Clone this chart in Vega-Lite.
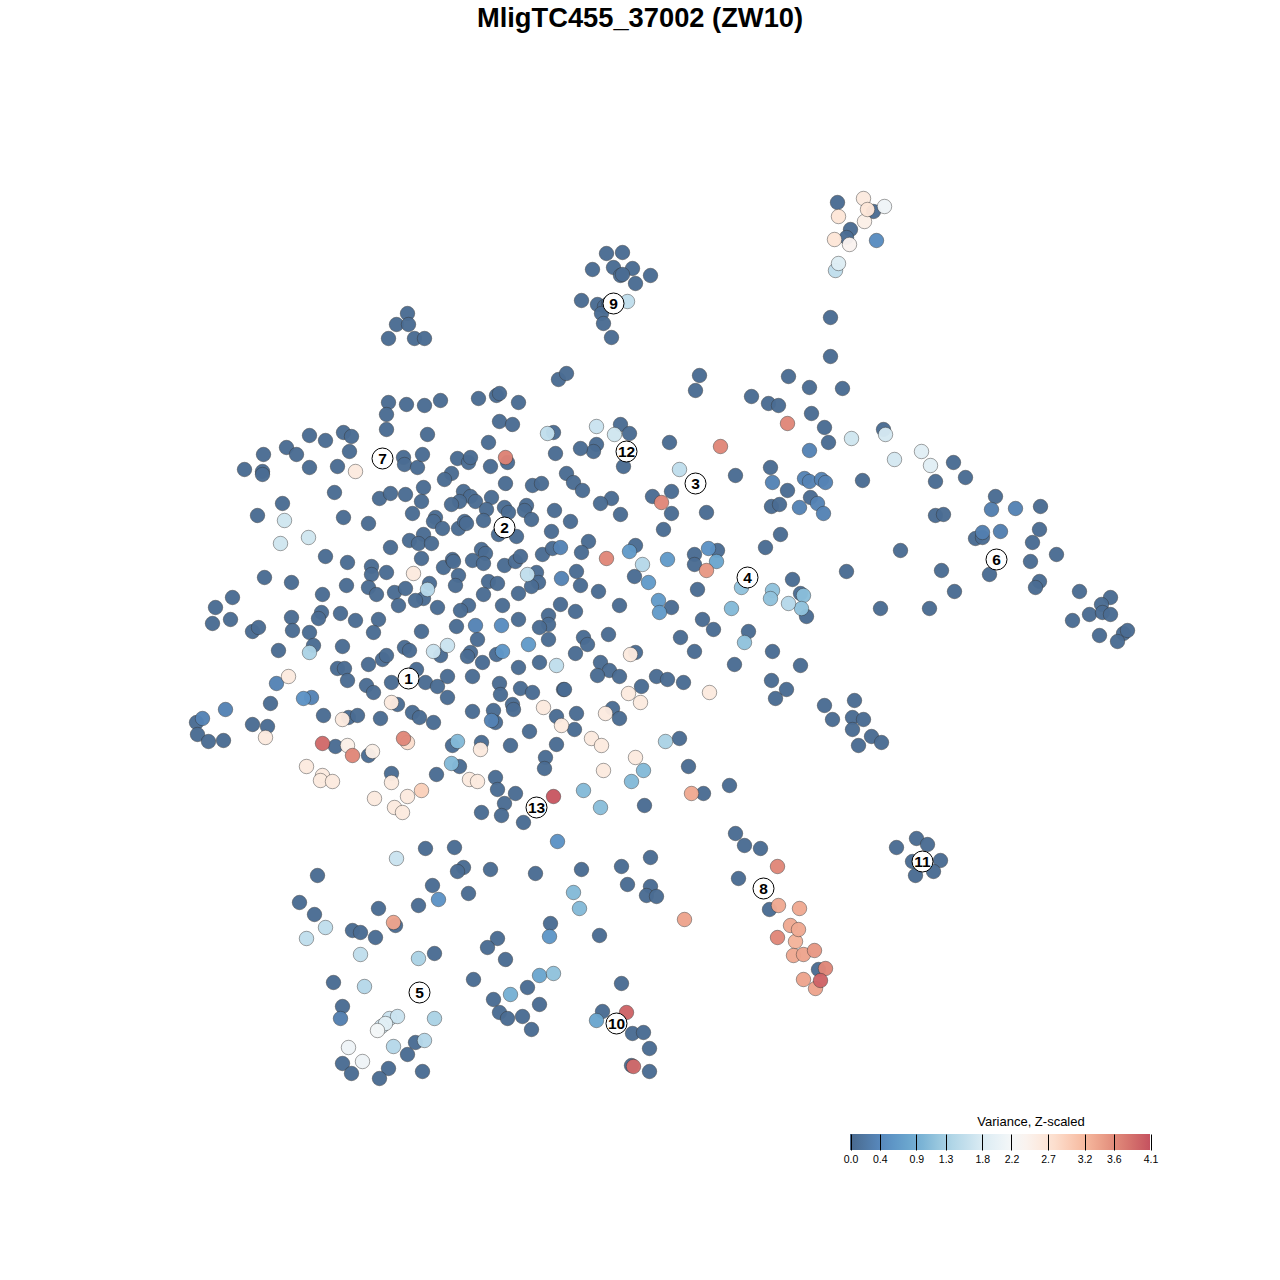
{"$schema":"https://vega.github.io/schema/vega-lite/v6.json","width":1280,"height":1280,"padding":0,"autosize":{"type":"none"},"background":"white","title":{"text":"MligTC455_37002 (ZW10)","font":"Liberation Sans","fontSize":27.3,"fontWeight":"bold","color":"black","anchor":"middle","frame":"group","offset":-32},"config":{"view":{"stroke":null},"style":{"guide-title":{"dx":31}}},"datasets":{"pts":[
{"x":244,"y":469,"v":0.05},{"x":263,"y":454,"v":0.05},{"x":262,"y":471,"v":0.05},{"x":262,"y":474,"v":0.05},{"x":286,"y":447,"v":0.05},{"x":296,"y":454,"v":0.05},{"x":309,"y":435,"v":0.05},{"x":325,"y":440,"v":0.05},{"x":343,"y":432,"v":0.05},{"x":351,"y":436,"v":0.05},{"x":349,"y":451,"v":0.05},{"x":309,"y":467,"v":0.05},{"x":337,"y":466,"v":0.05},{"x":355,"y":471,"v":2.6},{"x":334,"y":492,"v":0.05},{"x":282,"y":503,"v":0.05},{"x":257,"y":515,"v":0.05},{"x":284,"y":520,"v":1.7},{"x":308,"y":537,"v":1.7},{"x":280,"y":543,"v":1.7},{"x":343,"y":517,"v":0.05},{"x":368,"y":523,"v":0.05},{"x":325,"y":556,"v":0.05},{"x":347,"y":562,"v":0.05},{"x":264,"y":577,"v":0.05},{"x":291,"y":582,"v":0.05},{"x":379,"y":498,"v":0.05},{"x":390,"y":493,"v":0.05},{"x":388,"y":402,"v":0.05},{"x":386,"y":414,"v":0.05},{"x":386,"y":429,"v":0.05},{"x":390,"y":547,"v":0.05},{"x":371,"y":566,"v":0.05},{"x":371,"y":574,"v":0.05},{"x":386,"y":572,"v":0.05},
{"x":406,"y":404,"v":0.05},{"x":424,"y":405,"v":0.05},{"x":440,"y":400,"v":0.05},{"x":427,"y":434,"v":0.05},{"x":478,"y":398,"v":0.05},{"x":496,"y":395,"v":0.05},{"x":499,"y":393,"v":0.05},{"x":518,"y":402,"v":0.05},{"x":558,"y":379,"v":0.05},{"x":566,"y":373,"v":0.05},{"x":499,"y":421,"v":0.05},{"x":512,"y":424,"v":0.05},{"x":553,"y":432,"v":0.05},{"x":547,"y":433,"v":1.55},{"x":488,"y":442,"v":0.05},{"x":505,"y":457,"v":3.7},{"x":507,"y":462,"v":0.05},{"x":555,"y":453,"v":0.05},{"x":566,"y":473,"v":0.05},{"x":403,"y":457,"v":0.05},{"x":404,"y":464,"v":0.05},{"x":417,"y":467,"v":0.05},{"x":422,"y":454,"v":0.05},{"x":457,"y":458,"v":0.05},{"x":468,"y":462,"v":0.05},{"x":470,"y":457,"v":0.05},{"x":490,"y":466,"v":0.05},{"x":451,"y":473,"v":0.05},{"x":444,"y":479,"v":0.05},{"x":505,"y":483,"v":0.05},{"x":532,"y":485,"v":0.05},{"x":541,"y":483,"v":0.05},{"x":423,"y":487,"v":0.05},{"x":405,"y":494,"v":0.05},{"x":421,"y":501,"v":0.05},{"x":463,"y":491,"v":0.05},{"x":470,"y":496,"v":0.05},{"x":475,"y":501,"v":0.05},{"x":459,"y":501,"v":0.05},{"x":451,"y":504,"v":0.05},{"x":491,"y":497,"v":0.05},{"x":486,"y":509,"v":0.05},{"x":504,"y":507,"v":0.05},{"x":508,"y":512,"v":0.05},{"x":526,"y":505,"v":0.05},{"x":524,"y":510,"v":0.05},{"x":531,"y":519,"v":0.05},{"x":554,"y":510,"v":0.05},{"x":570,"y":521,"v":0.05},{"x":412,"y":513,"v":0.05},{"x":435,"y":517,"v":0.05},{"x":433,"y":521,"v":0.05},{"x":442,"y":528,"v":0.05},{"x":458,"y":528,"v":0.05},{"x":464,"y":521,"v":0.05},{"x":466,"y":523,"v":0.05},{"x":483,"y":520,"v":0.05},{"x":498,"y":534,"v":0.05},{"x":516,"y":536,"v":0.05},{"x":551,"y":531,"v":0.05},{"x":409,"y":540,"v":0.05},{"x":423,"y":534,"v":0.05},{"x":418,"y":543,"v":0.05},{"x":431,"y":543,"v":0.05},{"x":421,"y":558,"v":0.05},{"x":443,"y":567,"v":0.05},{"x":452,"y":559,"v":0.05},{"x":453,"y":561,"v":0.05},{"x":472,"y":560,"v":0.05},{"x":481,"y":549,"v":0.05},{"x":485,"y":553,"v":0.05},{"x":483,"y":563,"v":0.05},{"x":504,"y":565,"v":0.05},{"x":515,"y":561,"v":0.05},{"x":520,"y":556,"v":0.05},{"x":542,"y":554,"v":0.05},{"x":552,"y":548,"v":0.05},{"x":560,"y":547,"v":0.35},{"x":413,"y":573,"v":2.6},{"x":458,"y":575,"v":0.05},{"x":527,"y":574,"v":1.55},{"x":536,"y":572,"v":0.05},{"x":488,"y":581,"v":0.05},{"x":561,"y":578,"v":0.35},{"x":429,"y":583,"v":0.05},{"x":497,"y":583,"v":0.05},{"x":455,"y":585,"v":0.05},{"x":538,"y":582,"v":0.05},{"x":531,"y":586,"v":0.05},
{"x":232,"y":597,"v":0.05},{"x":215,"y":607,"v":0.05},{"x":230,"y":619,"v":0.05},{"x":212,"y":623,"v":0.05},{"x":252,"y":631,"v":0.05},{"x":258,"y":627,"v":0.05},{"x":291,"y":617,"v":0.05},{"x":292,"y":630,"v":0.05},{"x":322,"y":594,"v":0.05},{"x":346,"y":585,"v":0.05},{"x":368,"y":587,"v":0.05},{"x":376,"y":594,"v":0.05},{"x":394,"y":592,"v":0.05},{"x":321,"y":612,"v":0.05},{"x":318,"y":618,"v":0.05},{"x":340,"y":613,"v":0.05},{"x":355,"y":620,"v":0.05},{"x":378,"y":619,"v":0.05},{"x":373,"y":632,"v":0.05},{"x":309,"y":632,"v":0.05},{"x":313,"y":645,"v":0.05},{"x":309,"y":652,"v":1.35},{"x":342,"y":646,"v":0.05},{"x":278,"y":650,"v":0.05},{"x":337,"y":668,"v":0.05},{"x":344,"y":668,"v":0.05},{"x":347,"y":680,"v":0.05},{"x":368,"y":664,"v":0.05},{"x":382,"y":659,"v":0.05},{"x":386,"y":655,"v":0.05},{"x":366,"y":685,"v":0.05},{"x":373,"y":692,"v":0.05},{"x":288,"y":676,"v":2.6},{"x":276,"y":683,"v":0.35},{"x":303,"y":698,"v":0.55},{"x":311,"y":697,"v":0.35},{"x":270,"y":703,"v":0.05},{"x":225,"y":709,"v":0.35},{"x":202,"y":718,"v":0.35},{"x":196,"y":722,"v":0.05},{"x":197,"y":734,"v":0.05},{"x":208,"y":741,"v":0.05},{"x":223,"y":740,"v":0.05},{"x":252,"y":724,"v":0.05},{"x":267,"y":726,"v":0.05},{"x":265,"y":737,"v":2.6},{"x":323,"y":715,"v":0.05},{"x":342,"y":719,"v":2.6},{"x":348,"y":717,"v":0.05},{"x":357,"y":715,"v":0.05},{"x":380,"y":718,"v":0.05},{"x":391,"y":702,"v":2.6},{"x":322,"y":743,"v":3.9},{"x":335,"y":746,"v":0.05},{"x":347,"y":745,"v":2.5},{"x":352,"y":755,"v":3.65},{"x":368,"y":755,"v":0.05},{"x":372,"y":751,"v":2.5},{"x":306,"y":766,"v":2.6},{"x":322,"y":775,"v":2.6},{"x":320,"y":780,"v":2.6},{"x":332,"y":781,"v":2.6},
{"x":405,"y":588,"v":0.05},{"x":427,"y":589,"v":1.45},{"x":423,"y":598,"v":0.05},{"x":415,"y":600,"v":0.05},{"x":398,"y":605,"v":0.05},{"x":437,"y":607,"v":0.05},{"x":483,"y":594,"v":0.05},{"x":518,"y":593,"v":0.05},{"x":468,"y":605,"v":0.05},{"x":460,"y":610,"v":0.05},{"x":502,"y":605,"v":0.05},{"x":560,"y":604,"v":0.05},{"x":518,"y":619,"v":0.05},{"x":548,"y":615,"v":0.05},{"x":548,"y":624,"v":0.05},{"x":539,"y":627,"v":0.05},{"x":548,"y":639,"v":0.05},{"x":475,"y":625,"v":0.35},{"x":501,"y":625,"v":0.45},{"x":456,"y":626,"v":0.05},{"x":421,"y":631,"v":0.05},{"x":477,"y":639,"v":0.05},{"x":528,"y":644,"v":0.65},{"x":404,"y":647,"v":0.05},{"x":409,"y":650,"v":0.05},{"x":447,"y":645,"v":1.65},{"x":433,"y":651,"v":1.65},{"x":440,"y":655,"v":0.05},{"x":470,"y":652,"v":0.05},{"x":467,"y":656,"v":0.05},{"x":482,"y":662,"v":0.05},{"x":502,"y":651,"v":0.6},{"x":496,"y":654,"v":0.05},{"x":539,"y":662,"v":0.05},{"x":556,"y":665,"v":1.55},{"x":518,"y":667,"v":0.05},{"x":416,"y":669,"v":0.05},{"x":447,"y":676,"v":0.05},{"x":391,"y":682,"v":0.05},{"x":425,"y":682,"v":0.05},{"x":437,"y":686,"v":0.05},{"x":472,"y":676,"v":0.05},{"x":499,"y":683,"v":0.05},{"x":500,"y":694,"v":0.05},{"x":520,"y":688,"v":0.05},{"x":532,"y":692,"v":0.05},{"x":563,"y":689,"v":0.05},{"x":447,"y":697,"v":0.05},{"x":397,"y":704,"v":0.05},{"x":512,"y":704,"v":0.05},{"x":513,"y":709,"v":0.05},{"x":543,"y":707,"v":2.6},{"x":412,"y":712,"v":0.05},{"x":419,"y":717,"v":0.05},{"x":433,"y":722,"v":0.05},{"x":472,"y":711,"v":0.05},{"x":493,"y":710,"v":0.05},{"x":495,"y":722,"v":0.05},{"x":491,"y":720,"v":0.35},{"x":529,"y":731,"v":0.05},{"x":556,"y":716,"v":0.05},{"x":561,"y":725,"v":2.6},{"x":574,"y":729,"v":0.05},{"x":576,"y":713,"v":0.05},{"x":556,"y":744,"v":0.05},{"x":510,"y":745,"v":0.05},{"x":545,"y":757,"v":0.05},{"x":544,"y":768,"v":0.05},{"x":403,"y":738,"v":3.65},{"x":407,"y":742,"v":2.8},{"x":457,"y":741,"v":1.05},{"x":452,"y":745,"v":0.05},{"x":481,"y":742,"v":0.05},{"x":480,"y":749,"v":2.6},{"x":451,"y":763,"v":1.05},{"x":459,"y":766,"v":0.05},{"x":436,"y":774,"v":0.05},{"x":391,"y":773,"v":0.05},{"x":391,"y":782,"v":2.6},{"x":421,"y":790,"v":2.95},{"x":407,"y":796,"v":2.6},{"x":374,"y":798,"v":2.6},{"x":394,"y":807,"v":2.6},{"x":402,"y":812,"v":2.6},{"x":469,"y":779,"v":2.6},{"x":477,"y":781,"v":2.6},{"x":495,"y":777,"v":0.05},{"x":497,"y":789,"v":0.05},{"x":515,"y":793,"v":0.05},{"x":504,"y":803,"v":0.05},{"x":481,"y":812,"v":0.05},{"x":501,"y":815,"v":0.05},{"x":523,"y":822,"v":0.05},{"x":553,"y":796,"v":4.05},{"x":583,"y":790,"v":1.05},{"x":557,"y":841,"v":0.55},{"x":425,"y":848,"v":0.05},{"x":454,"y":847,"v":0.05},
{"x":768,"y":403,"v":0.05},{"x":778,"y":405,"v":0.05},{"x":811,"y":413,"v":0.05},{"x":787,"y":423,"v":3.65},{"x":824,"y":427,"v":0.05},{"x":828,"y":442,"v":0.05},{"x":809,"y":450,"v":0.35},{"x":596,"y":426,"v":1.65},{"x":620,"y":424,"v":0.05},{"x":629,"y":433,"v":0.05},{"x":614,"y":434,"v":1.7},{"x":596,"y":444,"v":0.05},{"x":593,"y":451,"v":0.05},{"x":580,"y":448,"v":0.05},{"x":669,"y":442,"v":0.05},{"x":720,"y":446,"v":3.65},{"x":623,"y":466,"v":0.05},{"x":679,"y":469,"v":1.55},{"x":770,"y":467,"v":0.05},{"x":735,"y":475,"v":0.05},{"x":573,"y":482,"v":0.05},{"x":582,"y":490,"v":0.05},{"x":772,"y":482,"v":0.35},{"x":804,"y":478,"v":0.35},{"x":809,"y":481,"v":0.35},{"x":821,"y":479,"v":0.35},{"x":825,"y":482,"v":0.35},{"x":787,"y":490,"v":0.05},{"x":671,"y":491,"v":0.05},{"x":652,"y":496,"v":0.05},{"x":661,"y":502,"v":3.65},{"x":611,"y":498,"v":0.05},{"x":600,"y":503,"v":0.05},{"x":620,"y":514,"v":0.05},{"x":671,"y":513,"v":0.05},{"x":706,"y":512,"v":0.05},{"x":771,"y":506,"v":0.05},{"x":779,"y":504,"v":0.05},{"x":799,"y":507,"v":0.35},{"x":810,"y":497,"v":0.05},{"x":817,"y":503,"v":0.35},{"x":823,"y":513,"v":0.35},{"x":663,"y":529,"v":0.05},{"x":780,"y":534,"v":0.05},{"x":765,"y":547,"v":0.05},{"x":588,"y":541,"v":0.05},{"x":581,"y":552,"v":0.05},{"x":635,"y":545,"v":0.05},{"x":629,"y":551,"v":0.65},{"x":606,"y":558,"v":3.65},{"x":694,"y":554,"v":0.05},{"x":708,"y":548,"v":0.55},{"x":717,"y":550,"v":0.05},{"x":716,"y":561,"v":0.8},{"x":694,"y":564,"v":0.05},{"x":706,"y":570,"v":3.5},{"x":667,"y":559,"v":0.65},{"x":642,"y":564,"v":1.45},{"x":576,"y":571,"v":0.05},{"x":634,"y":576,"v":0.05},{"x":648,"y":582,"v":0.65},{"x":580,"y":585,"v":0.05},{"x":598,"y":591,"v":0.05},{"x":741,"y":587,"v":1.15},{"x":792,"y":579,"v":0.05},{"x":772,"y":590,"v":1.15},{"x":770,"y":598,"v":1.15},{"x":800,"y":593,"v":0.05},{"x":803,"y":595,"v":1.1},{"x":788,"y":603,"v":1.45},{"x":801,"y":608,"v":1.15},{"x":806,"y":616,"v":0.05},{"x":731,"y":608,"v":1.05},{"x":697,"y":589,"v":0.05},{"x":619,"y":605,"v":0.05},{"x":658,"y":600,"v":0.65},{"x":671,"y":607,"v":0.05},{"x":659,"y":612,"v":0.65},{"x":575,"y":611,"v":0.05},{"x":702,"y":619,"v":0.05},{"x":713,"y":629,"v":0.05},{"x":680,"y":637,"v":0.05},{"x":608,"y":634,"v":0.05},{"x":583,"y":637,"v":0.05},{"x":587,"y":644,"v":0.05},{"x":748,"y":631,"v":0.05},{"x":744,"y":642,"v":1.15},{"x":772,"y":651,"v":0.05},{"x":694,"y":651,"v":0.05},{"x":635,"y":652,"v":0.05},{"x":630,"y":654,"v":2.6},{"x":575,"y":653,"v":0.05},{"x":600,"y":662,"v":0.05},{"x":609,"y":670,"v":0.05},{"x":597,"y":675,"v":0.05},{"x":619,"y":676,"v":0.05},{"x":734,"y":664,"v":0.05},{"x":800,"y":665,"v":0.05},{"x":656,"y":676,"v":0.05},{"x":667,"y":679,"v":0.05},{"x":683,"y":682,"v":0.05},{"x":641,"y":686,"v":0.05},{"x":564,"y":689,"v":0.05},{"x":771,"y":680,"v":0.05},{"x":786,"y":689,"v":0.05},{"x":775,"y":698,"v":0.05},{"x":709,"y":692,"v":2.6},{"x":628,"y":693,"v":2.6},{"x":640,"y":702,"v":2.6},{"x":605,"y":713,"v":2.6},{"x":612,"y":708,"v":0.05},{"x":619,"y":718,"v":0.05},{"x":591,"y":738,"v":2.6},{"x":601,"y":745,"v":2.6},
{"x":837,"y":202,"v":0.05},{"x":863,"y":198,"v":2.6},{"x":873,"y":211,"v":0.05},{"x":884,"y":206,"v":2.1},{"x":867,"y":209,"v":2.7},{"x":838,"y":216,"v":2.7},{"x":864,"y":221,"v":2.5},{"x":850,"y":229,"v":0.05},{"x":846,"y":237,"v":0.05},{"x":834,"y":239,"v":2.7},{"x":849,"y":244,"v":2.4},{"x":876,"y":240,"v":0.45},{"x":838,"y":263,"v":1.85},{"x":835,"y":270,"v":1.55},
{"x":606,"y":253,"v":0.05},{"x":622,"y":252,"v":0.05},{"x":592,"y":269,"v":0.05},{"x":613,"y":267,"v":0.05},{"x":632,"y":268,"v":0.05},{"x":620,"y":275,"v":0.05},{"x":622,"y":274,"v":0.05},{"x":650,"y":275,"v":0.05},{"x":635,"y":283,"v":0.05},{"x":581,"y":300,"v":0.05},{"x":597,"y":304,"v":0.05},{"x":627,"y":301,"v":1.55},{"x":604,"y":306,"v":0.05},{"x":608,"y":303,"v":0.05},{"x":601,"y":313,"v":0.05},{"x":603,"y":323,"v":0.05},{"x":611,"y":337,"v":0.05},
{"x":407,"y":313,"v":0.05},{"x":396,"y":324,"v":0.05},{"x":408,"y":324,"v":0.05},{"x":388,"y":338,"v":0.05},{"x":414,"y":338,"v":0.05},{"x":424,"y":338,"v":0.05},
{"x":830,"y":317,"v":0.05},{"x":830,"y":356,"v":0.05},{"x":699,"y":375,"v":0.05},{"x":695,"y":390,"v":0.05},{"x":788,"y":376,"v":0.05},{"x":809,"y":387,"v":0.05},{"x":842,"y":388,"v":0.05},{"x":751,"y":396,"v":0.05},
{"x":851,"y":438,"v":1.7},{"x":883,"y":429,"v":0.05},{"x":885,"y":434,"v":1.75},{"x":894,"y":459,"v":1.75},{"x":921,"y":451,"v":1.9},{"x":930,"y":465,"v":1.9},{"x":953,"y":462,"v":0.05},{"x":965,"y":477,"v":0.05},{"x":935,"y":481,"v":0.05},{"x":862,"y":480,"v":0.05},{"x":995,"y":496,"v":0.05},{"x":1015,"y":508,"v":0.35},{"x":1040,"y":506,"v":0.05},{"x":991,"y":509,"v":0.3},{"x":935,"y":515,"v":0.05},{"x":943,"y":514,"v":0.05},{"x":1039,"y":529,"v":0.05},{"x":982,"y":532,"v":0.3},{"x":975,"y":538,"v":0.05},{"x":1000,"y":531,"v":0.3},{"x":982,"y":537,"v":0.05},{"x":1032,"y":542,"v":0.05},{"x":1056,"y":554,"v":0.05},{"x":900,"y":550,"v":0.05},{"x":1030,"y":561,"v":0.05},{"x":989,"y":574,"v":0.05},{"x":941,"y":570,"v":0.05},{"x":846,"y":571,"v":0.05},{"x":954,"y":591,"v":0.05},{"x":1039,"y":581,"v":0.05},{"x":1035,"y":587,"v":0.05},{"x":880,"y":608,"v":0.05},{"x":929,"y":608,"v":0.05},{"x":1079,"y":591,"v":0.05},{"x":1110,"y":597,"v":0.05},{"x":1101,"y":604,"v":0.05},{"x":1089,"y":614,"v":0.05},{"x":1102,"y":612,"v":0.05},{"x":1110,"y":614,"v":0.05},{"x":1072,"y":620,"v":0.05},{"x":1123,"y":633,"v":0.05},{"x":1127,"y":630,"v":0.05},{"x":1099,"y":635,"v":0.05},{"x":1117,"y":641,"v":0.05},
{"x":854,"y":700,"v":0.05},{"x":824,"y":705,"v":0.05},{"x":832,"y":719,"v":0.05},{"x":852,"y":717,"v":0.05},{"x":863,"y":719,"v":0.05},{"x":852,"y":729,"v":0.05},{"x":871,"y":736,"v":0.05},{"x":881,"y":742,"v":0.05},{"x":858,"y":745,"v":0.05},{"x":679,"y":738,"v":0.05},{"x":665,"y":741,"v":1.35},{"x":635,"y":757,"v":2.6},{"x":688,"y":766,"v":0.05},{"x":643,"y":770,"v":1.05},{"x":631,"y":781,"v":1.05},{"x":603,"y":770,"v":2.6},{"x":729,"y":785,"v":0.05},{"x":703,"y":793,"v":0.05},{"x":691,"y":793,"v":3.35},{"x":644,"y":805,"v":0.05},{"x":600,"y":807,"v":1.1},
{"x":735,"y":833,"v":0.05},{"x":744,"y":845,"v":0.05},{"x":760,"y":848,"v":0.05},{"x":777,"y":866,"v":3.65},{"x":738,"y":878,"v":0.05},{"x":769,"y":909,"v":0.05},{"x":778,"y":905,"v":3.35},{"x":799,"y":908,"v":3.35},{"x":790,"y":925,"v":3.35},{"x":798,"y":929,"v":3.35},{"x":777,"y":937,"v":3.65},{"x":795,"y":941,"v":3.25},{"x":814,"y":950,"v":3.5},{"x":793,"y":955,"v":3.35},{"x":803,"y":954,"v":3.4},{"x":818,"y":969,"v":0.05},{"x":825,"y":968,"v":3.65},{"x":820,"y":980,"v":3.95},{"x":803,"y":979,"v":3.4},{"x":815,"y":988,"v":3.4},
{"x":916,"y":838,"v":0.05},{"x":927,"y":844,"v":0.05},{"x":896,"y":847,"v":0.05},{"x":912,"y":861,"v":0.05},{"x":922,"y":858,"v":0.05},{"x":940,"y":860,"v":0.05},{"x":915,"y":875,"v":0.05},{"x":933,"y":871,"v":0.05},
{"x":396,"y":858,"v":1.65},{"x":463,"y":867,"v":0.05},{"x":457,"y":871,"v":0.05},{"x":490,"y":869,"v":0.05},{"x":535,"y":873,"v":0.05},{"x":581,"y":869,"v":0.05},{"x":621,"y":866,"v":0.05},{"x":650,"y":857,"v":0.05},{"x":317,"y":875,"v":0.05},{"x":432,"y":885,"v":0.05},{"x":627,"y":884,"v":0.05},{"x":650,"y":886,"v":0.05},{"x":646,"y":895,"v":0.05},{"x":656,"y":896,"v":0.05},{"x":468,"y":893,"v":0.05},{"x":438,"y":899,"v":0.55},{"x":418,"y":905,"v":0.05},{"x":573,"y":892,"v":1.05},{"x":579,"y":908,"v":1.05},{"x":299,"y":902,"v":0.05},{"x":314,"y":914,"v":0.05},{"x":378,"y":908,"v":0.05},{"x":684,"y":919,"v":3.4},{"x":393,"y":922,"v":3.4},{"x":395,"y":925,"v":0.05},{"x":325,"y":927,"v":1.55},{"x":352,"y":930,"v":0.05},{"x":360,"y":932,"v":0.05},{"x":375,"y":937,"v":0.05},{"x":306,"y":938,"v":1.55},{"x":550,"y":923,"v":0.05},{"x":549,"y":936,"v":0.6},{"x":599,"y":935,"v":0.05},{"x":497,"y":938,"v":0.05},{"x":487,"y":947,"v":0.05},{"x":360,"y":954,"v":1.55},{"x":434,"y":953,"v":0.05},{"x":418,"y":958,"v":1.35},{"x":505,"y":959,"v":0.05},{"x":539,"y":975,"v":0.8},{"x":553,"y":973,"v":1.15},{"x":473,"y":979,"v":0.05},{"x":333,"y":982,"v":0.05},{"x":364,"y":986,"v":1.45},{"x":527,"y":987,"v":0.05},{"x":621,"y":983,"v":0.05},{"x":510,"y":994,"v":0.95},{"x":493,"y":999,"v":0.05},{"x":539,"y":1004,"v":0.05},{"x":342,"y":1006,"v":0.05},{"x":499,"y":1012,"v":0.05},{"x":340,"y":1018,"v":0.3},{"x":507,"y":1018,"v":0.05},{"x":522,"y":1016,"v":0.05},{"x":602,"y":1011,"v":0.05},{"x":626,"y":1012,"v":3.95},{"x":389,"y":1018,"v":1.65},{"x":397,"y":1016,"v":1.65},{"x":434,"y":1018,"v":1.35},{"x":385,"y":1023,"v":1.9},{"x":381,"y":1026,"v":1.75},{"x":377,"y":1030,"v":2.2},{"x":596,"y":1020,"v":0.8},{"x":531,"y":1029,"v":0.05},{"x":632,"y":1033,"v":0.05},{"x":643,"y":1032,"v":0.05},{"x":424,"y":1040,"v":1.45},{"x":415,"y":1042,"v":0.05},{"x":393,"y":1046,"v":1.45},{"x":348,"y":1047,"v":2.1},{"x":649,"y":1048,"v":0.05},{"x":407,"y":1054,"v":0.05},{"x":362,"y":1061,"v":2.1},{"x":342,"y":1063,"v":0.05},{"x":631,"y":1065,"v":0.05},{"x":633,"y":1066,"v":3.9},{"x":351,"y":1073,"v":0.05},{"x":388,"y":1068,"v":0.05},{"x":422,"y":1071,"v":0.05},{"x":649,"y":1071,"v":0.05},{"x":379,"y":1078,"v":0.05}
],"labs":[{"n":"1","x":408,"y":678},{"n":"2","x":504,"y":527},{"n":"3","x":695,"y":483},{"n":"4","x":747,"y":577},{"n":"5","x":419,"y":992},{"n":"6","x":996,"y":559},{"n":"7","x":382,"y":458},{"n":"8","x":763,"y":888},{"n":"9","x":613,"y":303},{"n":"10","x":616,"y":1023},{"n":"11","x":922,"y":861},{"n":"12","x":626,"y":451},{"n":"13","x":536,"y":807}],"ticks":[{"t":0.0},{"t":0.4},{"t":0.9},{"t":1.3},{"t":1.8},{"t":2.2},{"t":2.7},{"t":3.2},{"t":3.6},{"t":4.1}]},
"encoding":{"y":{"field":"y","type":"quantitative","scale":{"domain":[1279.5,-0.5],"nice":false,"zero":false},"axis":null}},
"layer":[
{"data":{"name":"pts"},"mark":{"type":"circle","size":210,"opacity":1,"fillOpacity":0.97,"stroke":"#333333","strokeOpacity":0.45,"strokeWidth":1},"encoding":{"x":{"field":"x","type":"quantitative","scale":{"domain":[-0.5,1279.5],"nice":false,"zero":false},"axis":null},"order":{"field":"v"},"color":{"field":"v","type":"quantitative","scale":{"domain":[0,4.1],"nice":false,"range":["#48688d","#598cc1","#72aed2","#add4e6","#dcecf4","#f9f9f9","#fde4d5","#f7bba1","#e08879","#c55260"]},"legend":{"orient":"none","legendX":850,"legendY":1116,"direction":"horizontal","title":"Variance, Z-scaled","titleFont":"Liberation Sans","titleFontSize":13,"titleFontWeight":"normal","titleColor":"black","titleAnchor":"middle","titlePadding":5,"gradientLength":300,"gradientThickness":16,"gradientStrokeWidth":0,"values":[],"labelExpr":"''"}}}},
{"data":{"name":"ticks"},"mark":{"type":"rule","opacity":0},"encoding":{"y":{"value":1134},"x":{"field":"t","type":"quantitative","scale":{"domain":[0,4.1],"range":[850.5,1150.5],"nice":false,"zero":false},"axis":{"orient":"bottom","offset":-146,"values":[0,0.4,0.9,1.3,1.8,2.2,2.7,3.2,3.6,4.1],"format":".1f","title":null,"grid":false,"domain":false,"ticks":true,"tickSize":16,"tickColor":"black","tickWidth":1,"labelFont":"Liberation Sans","labelFontSize":10.5,"labelColor":"black","labelPadding":4,"labelFlush":false,"labelOverlap":false,"zindex":1}}}},
{"data":{"name":"labs"},"mark":{"type":"point","filled":true,"size":441,"fill":"white","stroke":"black","strokeWidth":1,"opacity":1},"encoding":{"x":{"field":"x","type":"quantitative","scale":{"domain":[-0.5,1279.5],"nice":false,"zero":false},"axis":null}}},
{"data":{"name":"labs"},"mark":{"type":"text","font":"Liberation Sans","fontSize":15.5,"fontWeight":"bold","color":"black","align":"center","baseline":"middle"},"encoding":{"x":{"field":"x","type":"quantitative","scale":{"domain":[-0.5,1279.5],"nice":false,"zero":false},"axis":null},"text":{"field":"n"}}}
],"resolve":{"scale":{"x":"independent"},"axis":{"x":"independent"}}}
